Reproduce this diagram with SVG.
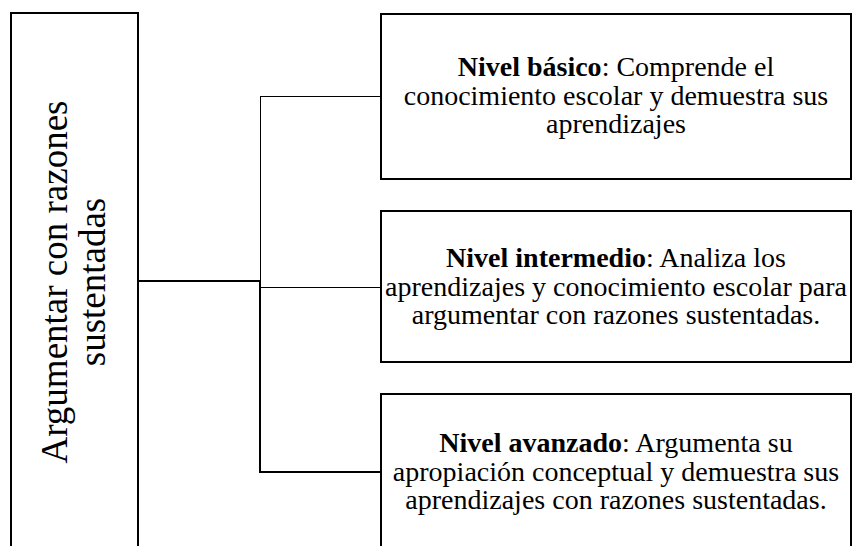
<svg xmlns="http://www.w3.org/2000/svg" width="852" height="546" viewBox="0 0 852 546">
<style>
.box{fill:#fff;stroke:#000;stroke-width:2}
.t{font-family:"Liberation Serif","Times New Roman",serif;font-size:28px;fill:#000;text-anchor:middle}
.lt{font-family:"Liberation Serif","Times New Roman",serif;font-size:37px;fill:#000;text-anchor:middle}
.b{font-weight:bold}
.thin{stroke:#000;stroke-width:1;fill:none}
.thick{stroke:#000;stroke-width:2;fill:none}
</style>
<rect width="852" height="546" fill="#fff"/>
<g id="connectors">
<line class="thick" x1="138" y1="281" x2="261" y2="281"/>
<line class="thin" x1="260.5" y1="96.5" x2="260.5" y2="281"/>
<line class="thick" x1="260" y1="280" x2="260" y2="473"/>
<line class="thin" x1="260" y1="96.5" x2="381" y2="96.5"/>
<line class="thin" x1="260" y1="287.5" x2="381" y2="287.5"/>
<line class="thick" x1="259" y1="472" x2="381" y2="472"/>
</g>
<g id="node-main">
<rect class="box" x="11" y="13" width="127" height="560"/>
<g transform="translate(67,282) rotate(-90)">
<text class="lt" x="0" y="0">Argumentar con razones</text>
<text class="lt" x="0" y="38">sustentadas</text>
</g>
</g>
<g id="node-basico">
<rect class="box" x="381" y="14" width="470" height="165"/>
<text class="t" x="616" y="76"><tspan class="b">Nivel básico</tspan>: Comprende el</text>
<text class="t" x="616" y="104.5">conocimiento escolar y demuestra sus</text>
<text class="t" x="616" y="133">aprendizajes</text>
</g>
<g id="node-intermedio">
<rect class="box" x="381" y="211" width="470" height="151"/>
<text class="t" x="616" y="267"><tspan class="b">Nivel intermedio</tspan>: Analiza los</text>
<text class="t" x="616" y="295.5">aprendizajes y conocimiento escolar para</text>
<text class="t" x="616" y="324">argumentar con razones sustentadas.</text>
</g>
<g id="node-avanzado">
<rect class="box" x="381" y="394" width="470" height="180"/>
<text class="t" x="616" y="452"><tspan class="b">Nivel avanzado</tspan>: Argumenta su</text>
<text class="t" x="616" y="480.5">apropiación conceptual y demuestra sus</text>
<text class="t" x="616" y="509">aprendizajes con razones sustentadas.</text>
</g>
</svg>
